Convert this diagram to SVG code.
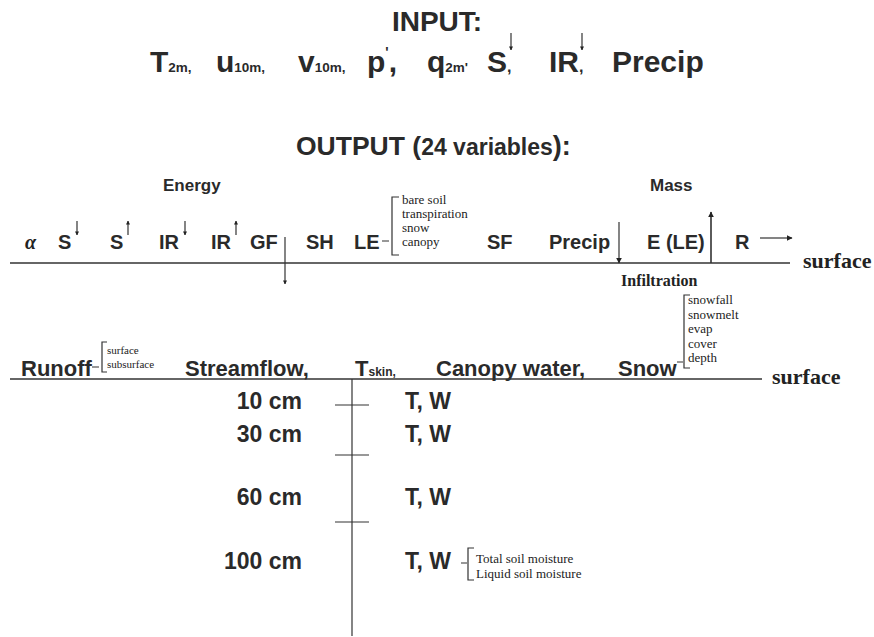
<svg xmlns="http://www.w3.org/2000/svg" width="874" height="637" viewBox="0 0 874 637">
<defs>
<marker id="ah" viewBox="0 0 10 10" refX="9" refY="5" markerWidth="6" markerHeight="6" orient="auto" markerUnits="userSpaceOnUse"><path d="M0,0 L10,5 L0,10 z" fill="#222"/></marker>
<marker id="ahs" viewBox="0 0 10 10" refX="9" refY="5" markerWidth="4" markerHeight="4" orient="auto" markerUnits="userSpaceOnUse"><path d="M0,0 L10,5 L0,10 z" fill="#222"/></marker>
</defs>
<style>
.b{font-family:"Liberation Sans",Arial,sans-serif;font-weight:bold;fill:#2a2a2a}
.big{font-size:30px}
.ttl{font-size:28px}
.mid{font-size:20px}
.row{font-size:22px}
.soil{font-size:23px}
.sm{font-size:17px}
.s{font-family:"Liberation Serif","Times New Roman",serif;fill:#222}
.sb{font-family:"Liberation Serif","Times New Roman",serif;font-weight:bold;fill:#222}
.note{font-size:13px}
.ln{stroke:#333;stroke-width:1.6;fill:none}
.th{stroke:#333;stroke-width:1.2;fill:none}
</style>
<rect width="874" height="637" fill="#fff"/>

<g id="input">
<text class="b ttl" x="437" y="31" text-anchor="middle">INPUT:</text>
<text class="b big" x="150" y="72">T<tspan font-size="13.5">2m,</tspan></text>
<text class="b big" x="216" y="72">u<tspan font-size="13.5">10m,</tspan></text>
<text class="b big" x="298" y="72">v<tspan font-size="13.5">10m,</tspan></text>
<text class="b big" x="367" y="72">p<tspan font-size="14" dy="-15">'</tspan><tspan dy="15">,</tspan></text>
<text class="b big" x="427" y="72">q<tspan font-size="13.5">2m'</tspan></text>
<text class="b big" x="487" y="72">S<tspan font-size="16">,</tspan></text>
<text class="b big" x="549" y="72">IR<tspan font-size="16">,</tspan></text>
<text class="b big" x="612" y="72">Precip</text>
</g>

<g id="input-arrows">
<line class="th" x1="511" y1="33" x2="511" y2="50" marker-end="url(#ahs)"/>
<line class="th" x1="582" y1="33" x2="582" y2="50" marker-end="url(#ahs)"/>
</g>

<g id="output-title">
<text class="b" x="296" y="155" font-size="27"><tspan font-size="26.5">OUTPUT (</tspan><tspan font-size="23">24 variables</tspan><tspan font-size="27">):</tspan></text>
</g>

<g id="energy">
<text class="b sm" x="163" y="191">Energy</text>
<text class="sb" x="25" y="249" font-size="20" font-style="italic">α</text>
<text class="b mid" x="58" y="249">S</text>
<text class="b mid" x="110" y="249">S</text>
<text class="b mid" x="159" y="249">IR</text>
<text class="b mid" x="211" y="249">IR</text>
<text class="b mid" x="250" y="249">GF</text>
<text class="b mid" x="306" y="249">SH</text>
<text class="b mid" x="354" y="249">LE</text>
<text class="s note" x="402" y="204">bare soil</text>
<text class="s note" x="402" y="218">transpiration</text>
<text class="s note" x="402" y="232">snow</text>
<text class="s note" x="402" y="246">canopy</text>
<text class="b mid" x="487" y="249">SF</text>
</g>

<g id="mass">
<text class="b sm" x="650" y="191">Mass</text>
<text class="b mid" x="549" y="249">Precip</text>
<text class="b mid" x="647" y="249">E (LE)</text>
<text class="b mid" x="735" y="249">R</text>
<text class="sb" x="803" y="268" font-size="22">surface</text>
<text class="sb" x="621" y="286" font-size="16">Infiltration</text>
</g>

<g id="storage">
<text class="b row" x="21" y="376">Runoff</text>
<text class="s" x="107" y="354" font-size="11">surface</text>
<text class="s" x="107" y="368" font-size="11">subsurface</text>
<text class="b row" x="185" y="376">Streamflow,</text>
<text class="b row" x="355" y="376">T<tspan font-size="12">skin,</tspan></text>
<text class="b row" x="436" y="376">Canopy water,</text>
<text class="b row" x="618" y="376">Snow</text>
<text class="s note" x="688" y="304">snowfall</text>
<text class="s note" x="688" y="318.5">snowmelt</text>
<text class="s note" x="688" y="333">evap</text>
<text class="s note" x="688" y="347.5">cover</text>
<text class="s note" x="688" y="362">depth</text>
<text class="sb" x="772" y="384" font-size="22">surface</text>
</g>

<g id="soil">
<text class="b soil" x="302" y="409" text-anchor="end">10 cm</text>
<text class="b soil" x="302" y="442" text-anchor="end">30 cm</text>
<text class="b soil" x="302" y="505" text-anchor="end">60 cm</text>
<text class="b soil" x="302" y="569" text-anchor="end">100 cm</text>
<text class="b soil" x="405" y="409">T, W</text>
<text class="b soil" x="405" y="442">T, W</text>
<text class="b soil" x="405" y="505">T, W</text>
<text class="b soil" x="405" y="569">T, W</text>
<text class="s note" x="476" y="563">Total soil moisture</text>
<text class="s note" x="476" y="578">Liquid soil moisture</text>
</g>

<g id="connectors">
<line class="ln" x1="10" y1="263" x2="790" y2="263"/>
<line class="ln" x1="10" y1="379" x2="762" y2="379"/>
<line class="th" x1="77" y1="221" x2="77" y2="235" marker-end="url(#ahs)"/>
<line class="th" x1="128" y1="235" x2="128" y2="221" marker-end="url(#ahs)"/>
<line class="th" x1="185" y1="221" x2="185" y2="235" marker-end="url(#ahs)"/>
<line class="th" x1="236" y1="235" x2="236" y2="221" marker-end="url(#ahs)"/>
<line class="th" x1="285" y1="237" x2="285" y2="284" marker-end="url(#ahs)"/>
<line class="th" x1="619" y1="222" x2="619" y2="263" marker-end="url(#ah)"/>
<line class="ln" x1="711" y1="263" x2="711" y2="212" marker-end="url(#ah)"/>
<line class="th" x1="760" y1="238" x2="792" y2="238" marker-end="url(#ah)"/>
<path class="th" d="M382,241 H389 M399,197 H392 V255 H399"/>
<path class="th" d="M92,367 H99 M107,342 H102 V372 H107"/>
<path class="th" d="M677,362 H683 M690,295 H684 V368 H690"/>
<line class="th" x1="352" y1="379" x2="352" y2="636"/>
<line class="th" x1="335" y1="405" x2="369" y2="405"/>
<line class="th" x1="335" y1="455" x2="369" y2="455"/>
<line class="th" x1="335" y1="522" x2="369" y2="522"/>
<path class="th" d="M461,563 H467 M474,548 H468 V580 H474"/>
</g>
</svg>
